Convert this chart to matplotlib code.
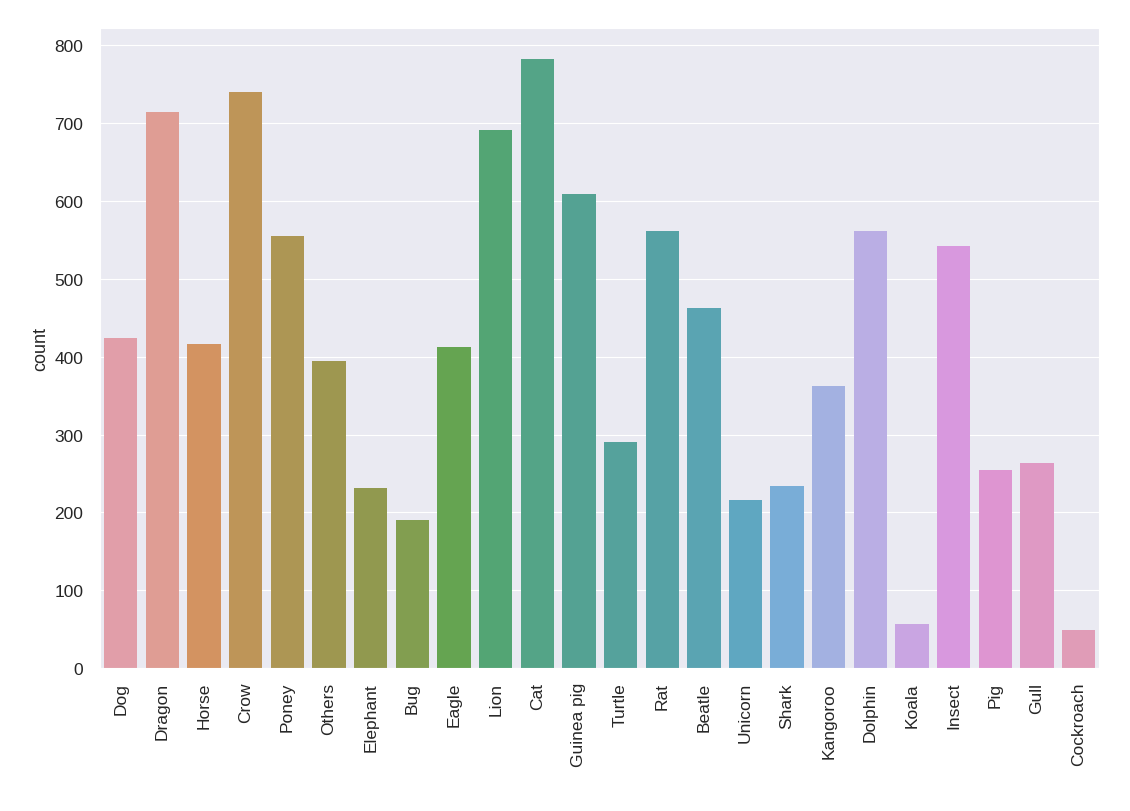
import matplotlib
matplotlib.use("Agg")
import matplotlib.pyplot as plt
import seaborn as sns

animals = ["Dog", "Dragon", "Horse", "Crow", "Poney", "Others", "Elephant", "Bug",
           "Eagle", "Lion", "Cat", "Guinea pig", "Turtle", "Rat", "Beatle", "Unicorn",
           "Shark", "Kangoroo", "Dolphin", "Koala", "Insect", "Pig", "Gull", "Cockroach"]
counts = [424, 714, 416, 740, 555, 395, 231, 190,
          413, 691, 783, 609, 290, 562, 462, 216,
          234, 362, 562, 56, 542, 254, 264, 49]

sns.set_style("darkgrid", {"grid.linewidth": 1.6})
plt.rcParams['font.family'] = ['Liberation Sans', 'DejaVu Sans']

fig = plt.figure(figsize=(11.3, 8.12), dpi=100)
ax = fig.add_axes([0.0885, 0.176, 0.8845, 0.788])

colors = sns.husl_palette(len(animals), l=.7)
sns.barplot(x=animals, y=counts, hue=animals, palette=colors, saturation=.6,
            legend=False, ax=ax, width=0.8, linewidth=0)

ax.set_ylabel("count", fontsize=13)
ax.set_ylim(0, 822)
ax.set_yticks(range(0, 801, 100))
ax.tick_params(axis='y', labelsize=12.5, colors='#262626', length=0, pad=12)
ax.tick_params(axis='x', labelsize=12.5, colors='#262626', length=0, pad=10)
for lab in ax.get_xticklabels():
    lab.set_rotation(90)
ax.set_xlim(-0.5, len(animals) - 0.5)

fig.savefig("out.png", dpi=100)
